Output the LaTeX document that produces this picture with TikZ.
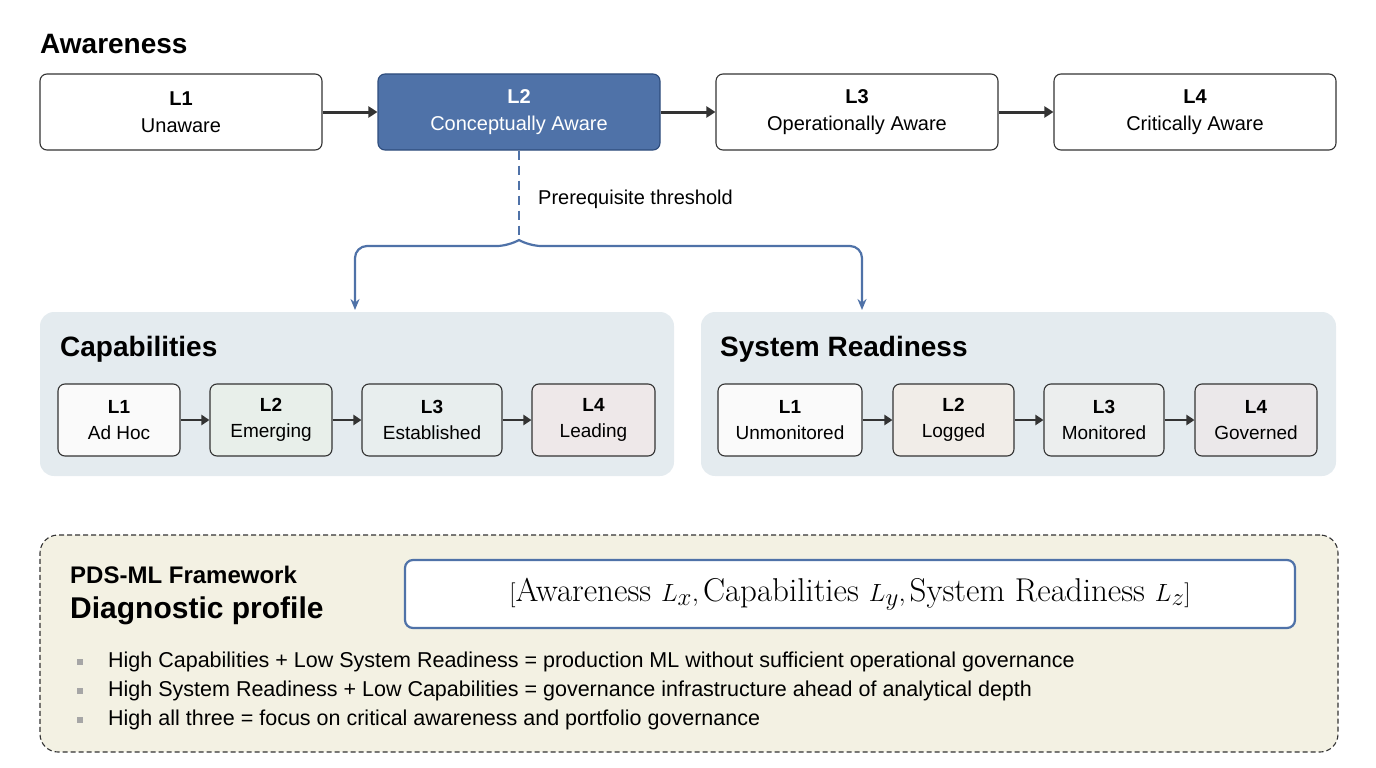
\documentclass[tikz,border=0pt]{standalone}
\usepackage{fontspec}
\setmainfont{Liberation Sans}
\usepackage{amsmath}
\usetikzlibrary{arrows.meta}
\definecolor{blueA}{HTML}{4F72A8}
\definecolor{blueD}{HTML}{2E4C7C}
\definecolor{panel}{HTML}{E4EBEF}
\definecolor{cream}{HTML}{F3F1E3}
\definecolor{dark}{HTML}{333333}
\tikzset{
 lvl/.style={draw=dark,line width=1.1pt,rounded corners=7pt,fill=white,align=center,inner sep=0pt},
 big/.style={lvl,minimum width=282pt,minimum height=76pt,font=\fontsize{20}{27}\selectfont},
 small/.style={lvl,minimum height=72pt,font=\fontsize{19}{26}\selectfont},
 arr/.style={-{Triangle[length=9pt,width=11pt]},line width=3pt,draw=dark},
 sarr/.style={-{Triangle[length=8pt,width=10pt]},line width=2.5pt,draw=dark},
 barr/.style={-{Stealth[length=11pt,width=9pt]},line width=2.2pt,draw=blueA,rounded corners=12pt},
 ttl/.style={anchor=west,font=\fontsize{28}{32}\selectfont\bfseries,inner sep=0pt},
}
\begin{document}
\begin{tikzpicture}[x=1pt,y=-1pt]
\useasboundingbox (0,0) rectangle (1376,768);
\node[ttl] (aw) at (40,44) {Awareness};
\node[big] (a1) at (181,112) {\textbf{L1}\\Unaware};
\node[big,fill=blueA,draw=blueD,text=white] (a2) at (519,112) {\textbf{L2}\\Conceptually Aware};
\node[big] (a3) at (857,112) {\textbf{L3}\\Operationally Aware};
\node[big] (a4) at (1195,112) {\textbf{L4}\\Critically Aware};
\draw[arr] (a1) -- (a2); \draw[arr] (a2) -- (a3); \draw[arr] (a3) -- (a4);
\coordinate (fork) at (519,240);
\draw[blueA,line width=2.2pt,dash pattern=on 9pt off 6pt] (a2.south) -- (fork);
\node[anchor=west,font=\fontsize{20}{24}\selectfont,inner sep=0pt] (pt) at (538,199) {Prerequisite threshold};
\node[draw=none,fill=panel,rounded corners=14pt,minimum width=634pt,minimum height=164pt,inner sep=0pt] (cp) at (357,394) {};
\node[draw=none,fill=panel,rounded corners=14pt,minimum width=635pt,minimum height=164pt,inner sep=0pt] (sp) at (1018.5,394) {};
\coordinate (cl) at (355,310); \coordinate (cr) at (862,310);
\draw[barr] (fork) -- ++(-10,6) -| (cl);
\draw[barr] (fork) -- ++(10,6) -| (cr);
\node[ttl] (ct) at (60,349) {Capabilities};
\node[ttl] (st) at (720,349) {System Readiness};
\node[small,minimum width=122pt,fill=black!2] (c1) at (119,420) {\textbf{L1}\\Ad Hoc};
\node[small,minimum width=122pt,fill={rgb,255:red,232;green,239;blue,234}] (c2) at (271,420) {\textbf{L2}\\Emerging};
\node[small,minimum width=140pt,fill={rgb,255:red,232;green,238;blue,238}] (c3) at (432,420) {\textbf{L3}\\Established};
\node[small,minimum width=123pt,fill={rgb,255:red,238;green,232;blue,233}] (c4) at (593.5,420) {\textbf{L4}\\Leading};
\draw[sarr] (c1) -- (c2); \draw[sarr] (c2) -- (c3); \draw[sarr] (c3) -- (c4);
\node[small,minimum width=144pt,fill=black!2] (s1) at (790,420) {\textbf{L1}\\Unmonitored};
\node[small,minimum width=121pt,fill={rgb,255:red,241;green,237;blue,232}] (s2) at (953.5,420) {\textbf{L2}\\Logged};
\node[small,minimum width=120pt,fill={rgb,255:red,236;green,238;blue,238}] (s3) at (1104,420) {\textbf{L3}\\Monitored};
\node[small,minimum width=122pt,fill={rgb,255:red,235;green,232;blue,234}] (s4) at (1256,420) {\textbf{L4}\\Governed};
\draw[sarr] (s1) -- (s2); \draw[sarr] (s2) -- (s3); \draw[sarr] (s3) -- (s4);
\node[draw=dark,line width=1.1pt,dash pattern=on 5pt off 3pt,fill=cream,rounded corners=18pt,minimum width=1298pt,minimum height=217pt,inner sep=0pt] (db) at (689,643.5) {};
\node[anchor=west,inner sep=0pt,font=\fontsize{24}{28}\selectfont\bfseries] (pf) at (70,575) {PDS-ML Framework};
\node[anchor=west,inner sep=0pt,font=\fontsize{30}{34}\selectfont\bfseries] (dp) at (70,611) {Diagnostic profile};
\node[draw=blueA,line width=2.2pt,fill=white,rounded corners=8pt,minimum width=890pt,minimum height=68pt,inner sep=0pt,font=\fontsize{33}{36}\selectfont] (fm) at (850,594) {$[\text{\rmfamily\fontspec{Latin Modern Roman}Awareness } L_x, \text{\fontspec{Latin Modern Roman}Capabilities } L_y, \text{\fontspec{Latin Modern Roman}System Readiness } L_z]$};
\foreach \y/\t [count=\i] in {662/{High Capabilities + Low System Readiness = production ML without sufficient operational governance},691/{High System Readiness + Low Capabilities = governance infrastructure ahead of analytical depth},720/{High all three = focus on critical awareness and portfolio governance}}{
 \node[fill=gray!70,minimum size=6pt,inner sep=0pt] (b\i) at (80,\y) {};
 \node[anchor=west,inner sep=0pt,font=\fontsize{21.5}{24}\selectfont] (t\i) at (108,\y) {\t};
}
\end{tikzpicture}
\end{document}
